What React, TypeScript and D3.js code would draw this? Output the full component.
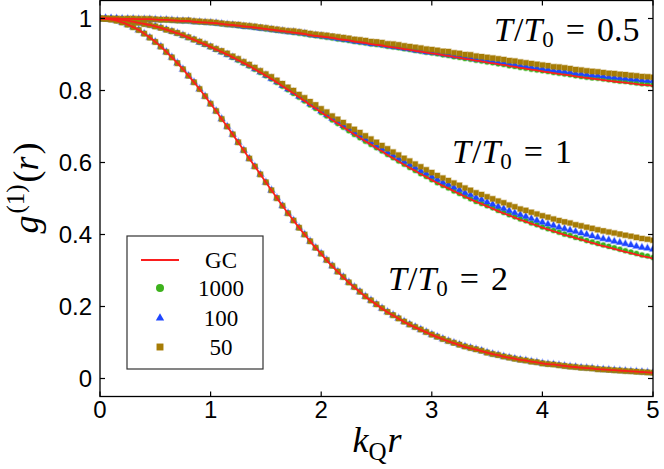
import React from "react";
import * as d3 from "d3";

// sample positions k_Q r
const kr = [
  0, 0.05, 0.1, 0.15, 0.2, 0.25, 0.3, 0.35, 0.4, 0.45,
  0.5, 0.55, 0.6, 0.65, 0.7, 0.75, 0.8, 0.85, 0.9, 0.95,
  1, 1.05, 1.1, 1.15, 1.2, 1.25, 1.3, 1.35, 1.4, 1.45,
  1.5, 1.55, 1.6, 1.65, 1.7, 1.75, 1.8, 1.85, 1.9, 1.95,
  2, 2.05, 2.1, 2.15, 2.2, 2.25, 2.3, 2.35, 2.4, 2.45,
  2.5, 2.55, 2.6, 2.65, 2.7, 2.75, 2.8, 2.85, 2.9, 2.95,
  3, 3.05, 3.1, 3.15, 3.2, 3.25, 3.3, 3.35, 3.4, 3.45,
  3.5, 3.55, 3.6, 3.65, 3.7, 3.75, 3.8, 3.85, 3.9, 3.95,
  4, 4.05, 4.1, 4.15, 4.2, 4.25, 4.3, 4.35, 4.4, 4.45,
  4.5, 4.55, 4.6, 4.65, 4.7, 4.75, 4.8, 4.85, 4.9, 4.95,
  5,
];

// T/T0 = 0.5
const gcHalf = [
  1.000, 1.000, 1.000, 1.000, 0.999, 0.999, 0.999, 0.998, 0.998, 0.998,
  0.997, 0.996, 0.996, 0.995, 0.994, 0.993, 0.993, 0.991, 0.990, 0.989,
  0.988, 0.987, 0.985, 0.983, 0.982, 0.980, 0.978, 0.977, 0.975, 0.973,
  0.971, 0.969, 0.967, 0.965, 0.963, 0.961, 0.959, 0.957, 0.954, 0.952,
  0.950, 0.948, 0.946, 0.943, 0.941, 0.939, 0.936, 0.934, 0.932, 0.929,
  0.927, 0.925, 0.922, 0.920, 0.918, 0.915, 0.913, 0.910, 0.908, 0.905,
  0.903, 0.901, 0.898, 0.896, 0.893, 0.891, 0.888, 0.886, 0.883, 0.881,
  0.878, 0.876, 0.873, 0.871, 0.868, 0.866, 0.863, 0.861, 0.858, 0.856,
  0.853, 0.851, 0.848, 0.846, 0.844, 0.842, 0.839, 0.837, 0.835, 0.833,
  0.831, 0.829, 0.827, 0.825, 0.823, 0.822, 0.820, 0.818, 0.816, 0.815,
  0.813,
];
const n1000Half = [
  1.000, 1.000, 1.000, 1.000, 0.999, 0.999, 0.999, 0.998, 0.998, 0.998,
  0.997, 0.996, 0.996, 0.995, 0.994, 0.993, 0.993, 0.991, 0.990, 0.989,
  0.988, 0.987, 0.985, 0.983, 0.982, 0.980, 0.978, 0.977, 0.975, 0.973,
  0.971, 0.969, 0.967, 0.965, 0.963, 0.961, 0.959, 0.957, 0.954, 0.952,
  0.950, 0.948, 0.946, 0.943, 0.941, 0.939, 0.936, 0.934, 0.932, 0.929,
  0.928, 0.926, 0.923, 0.921, 0.919, 0.916, 0.914, 0.911, 0.909, 0.906,
  0.904, 0.902, 0.899, 0.897, 0.894, 0.892, 0.889, 0.887, 0.884, 0.882,
  0.879, 0.877, 0.874, 0.872, 0.869, 0.867, 0.864, 0.862, 0.859, 0.857,
  0.855, 0.853, 0.850, 0.848, 0.846, 0.844, 0.841, 0.839, 0.837, 0.835,
  0.834, 0.832, 0.830, 0.828, 0.826, 0.825, 0.823, 0.821, 0.819, 0.818,
  0.816,
];
const n100Half = [
  1.000, 1.000, 1.000, 1.000, 0.999, 0.999, 0.999, 0.998, 0.998, 0.998,
  0.997, 0.996, 0.996, 0.995, 0.994, 0.993, 0.993, 0.991, 0.990, 0.989,
  0.988, 0.987, 0.985, 0.983, 0.982, 0.980, 0.978, 0.977, 0.975, 0.973,
  0.971, 0.969, 0.967, 0.965, 0.963, 0.962, 0.960, 0.958, 0.955, 0.953,
  0.951, 0.949, 0.947, 0.944, 0.942, 0.940, 0.937, 0.935, 0.933, 0.930,
  0.929, 0.927, 0.924, 0.922, 0.920, 0.917, 0.915, 0.912, 0.910, 0.907,
  0.906, 0.904, 0.901, 0.899, 0.896, 0.895, 0.892, 0.890, 0.887, 0.885,
  0.883, 0.881, 0.878, 0.877, 0.874, 0.872, 0.869, 0.868, 0.865, 0.863,
  0.861, 0.859, 0.856, 0.855, 0.853, 0.851, 0.848, 0.847, 0.845, 0.843,
  0.842, 0.840, 0.838, 0.837, 0.835, 0.834, 0.832, 0.831, 0.829, 0.828,
  0.827,
];
const n50Half = [
  1.000, 1.000, 1.000, 1.000, 0.999, 1.000, 1.000, 0.999, 0.999, 0.999,
  0.998, 0.997, 0.997, 0.996, 0.995, 0.995, 0.995, 0.993, 0.992, 0.991,
  0.990, 0.989, 0.987, 0.985, 0.984, 0.983, 0.981, 0.980, 0.978, 0.976,
  0.974, 0.972, 0.970, 0.968, 0.966, 0.965, 0.963, 0.961, 0.958, 0.956,
  0.955, 0.953, 0.951, 0.949, 0.947, 0.945, 0.942, 0.941, 0.939, 0.936,
  0.935, 0.933, 0.930, 0.929, 0.927, 0.924, 0.922, 0.920, 0.918, 0.915,
  0.914, 0.912, 0.909, 0.908, 0.905, 0.903, 0.900, 0.899, 0.896, 0.894,
  0.892, 0.890, 0.888, 0.886, 0.883, 0.882, 0.879, 0.877, 0.875, 0.873,
  0.871, 0.869, 0.866, 0.865, 0.863, 0.861, 0.858, 0.857, 0.855, 0.853,
  0.852, 0.850, 0.848, 0.847, 0.845, 0.844, 0.842, 0.841, 0.839, 0.838,
  0.837,
];

// T/T0 = 1
const gcOne = [
  1.000, 1.000, 0.999, 0.998, 0.996, 0.994, 0.991, 0.988, 0.985, 0.982,
  0.978, 0.974, 0.969, 0.964, 0.959, 0.953, 0.947, 0.941, 0.934, 0.928,
  0.921, 0.914, 0.907, 0.900, 0.892, 0.884, 0.876, 0.868, 0.859, 0.850,
  0.841, 0.832, 0.822, 0.812, 0.802, 0.792, 0.781, 0.771, 0.760, 0.750,
  0.739, 0.729, 0.718, 0.708, 0.698, 0.688, 0.678, 0.669, 0.659, 0.650,
  0.640, 0.631, 0.621, 0.612, 0.603, 0.594, 0.585, 0.577, 0.568, 0.560,
  0.551, 0.543, 0.535, 0.528, 0.520, 0.513, 0.505, 0.498, 0.491, 0.485,
  0.478, 0.472, 0.465, 0.459, 0.453, 0.447, 0.441, 0.436, 0.430, 0.425,
  0.419, 0.414, 0.409, 0.404, 0.399, 0.395, 0.390, 0.386, 0.381, 0.377,
  0.372, 0.368, 0.364, 0.360, 0.356, 0.352, 0.348, 0.344, 0.340, 0.337,
  0.333,
];
const n1000One = [
  1.000, 1.000, 0.999, 0.998, 0.996, 0.994, 0.991, 0.988, 0.985, 0.982,
  0.978, 0.974, 0.969, 0.964, 0.959, 0.953, 0.947, 0.941, 0.934, 0.928,
  0.921, 0.914, 0.907, 0.900, 0.892, 0.884, 0.876, 0.868, 0.859, 0.850,
  0.841, 0.832, 0.822, 0.812, 0.802, 0.792, 0.781, 0.771, 0.760, 0.750,
  0.739, 0.729, 0.718, 0.708, 0.698, 0.688, 0.678, 0.669, 0.659, 0.650,
  0.641, 0.632, 0.622, 0.613, 0.604, 0.595, 0.586, 0.578, 0.569, 0.561,
  0.552, 0.544, 0.536, 0.529, 0.521, 0.514, 0.506, 0.499, 0.492, 0.486,
  0.480, 0.474, 0.467, 0.461, 0.455, 0.449, 0.443, 0.438, 0.432, 0.427,
  0.421, 0.416, 0.411, 0.406, 0.401, 0.397, 0.392, 0.388, 0.383, 0.379,
  0.375, 0.371, 0.367, 0.363, 0.359, 0.355, 0.351, 0.347, 0.343, 0.340,
  0.336,
];
const n100One = [
  1.000, 1.000, 0.999, 0.998, 0.996, 0.994, 0.991, 0.988, 0.985, 0.982,
  0.978, 0.974, 0.969, 0.964, 0.959, 0.953, 0.947, 0.941, 0.934, 0.928,
  0.921, 0.914, 0.907, 0.900, 0.892, 0.885, 0.877, 0.869, 0.860, 0.851,
  0.842, 0.833, 0.824, 0.814, 0.804, 0.795, 0.784, 0.774, 0.763, 0.754,
  0.743, 0.733, 0.723, 0.713, 0.703, 0.694, 0.684, 0.675, 0.665, 0.657,
  0.647, 0.638, 0.629, 0.620, 0.611, 0.603, 0.594, 0.586, 0.577, 0.570,
  0.561, 0.553, 0.545, 0.539, 0.531, 0.524, 0.516, 0.510, 0.503, 0.497,
  0.490, 0.484, 0.478, 0.472, 0.466, 0.460, 0.455, 0.450, 0.444, 0.439,
  0.434, 0.429, 0.425, 0.420, 0.416, 0.412, 0.408, 0.404, 0.400, 0.396,
  0.392, 0.388, 0.385, 0.381, 0.378, 0.374, 0.371, 0.367, 0.364, 0.362,
  0.359,
];
const n50One = [
  1.000, 1.000, 0.999, 0.998, 0.996, 0.994, 0.991, 0.988, 0.985, 0.982,
  0.978, 0.974, 0.969, 0.965, 0.960, 0.954, 0.948, 0.942, 0.936, 0.930,
  0.923, 0.916, 0.910, 0.903, 0.895, 0.888, 0.880, 0.872, 0.864, 0.855,
  0.846, 0.838, 0.828, 0.819, 0.809, 0.800, 0.789, 0.780, 0.769, 0.760,
  0.749, 0.740, 0.729, 0.720, 0.711, 0.701, 0.692, 0.683, 0.674, 0.665,
  0.656, 0.647, 0.638, 0.629, 0.621, 0.612, 0.604, 0.596, 0.588, 0.580,
  0.572, 0.564, 0.557, 0.550, 0.543, 0.537, 0.529, 0.523, 0.516, 0.511,
  0.505, 0.499, 0.493, 0.488, 0.482, 0.477, 0.471, 0.467, 0.462, 0.457,
  0.452, 0.448, 0.443, 0.439, 0.435, 0.432, 0.427, 0.424, 0.420, 0.417,
  0.413, 0.410, 0.407, 0.404, 0.401, 0.398, 0.395, 0.392, 0.389, 0.387,
  0.384,
];

// T/T0 = 2 (all particle numbers fall on top of each other)
const gcTwo = [
  1.000, 0.999, 0.997, 0.994, 0.989, 0.983, 0.976, 0.968, 0.958, 0.947,
  0.935, 0.922, 0.907, 0.892, 0.876, 0.859, 0.841, 0.823, 0.804, 0.784,
  0.763, 0.743, 0.721, 0.700, 0.678, 0.656, 0.634, 0.611, 0.589, 0.567,
  0.545, 0.523, 0.501, 0.480, 0.459, 0.439, 0.419, 0.400, 0.381, 0.363,
  0.346, 0.328, 0.312, 0.296, 0.281, 0.266, 0.253, 0.240, 0.227, 0.216,
  0.205, 0.194, 0.184, 0.175, 0.166, 0.157, 0.149, 0.142, 0.135, 0.128,
  0.121, 0.115, 0.109, 0.103, 0.098, 0.093, 0.088, 0.084, 0.080, 0.076,
  0.072, 0.068, 0.065, 0.061, 0.058, 0.055, 0.052, 0.050, 0.047, 0.045,
  0.042, 0.040, 0.039, 0.037, 0.035, 0.033, 0.032, 0.030, 0.029, 0.028,
  0.026, 0.025, 0.024, 0.023, 0.022, 0.021, 0.020, 0.019, 0.018, 0.017,
  0.016,
];
const simTwo = [
  1.000, 0.999, 0.997, 0.994, 0.989, 0.983, 0.976, 0.968, 0.958, 0.947,
  0.935, 0.922, 0.907, 0.892, 0.876, 0.859, 0.841, 0.823, 0.804, 0.784,
  0.763, 0.743, 0.721, 0.700, 0.678, 0.656, 0.634, 0.611, 0.589, 0.567,
  0.545, 0.523, 0.501, 0.480, 0.459, 0.439, 0.419, 0.400, 0.381, 0.363,
  0.347, 0.329, 0.313, 0.297, 0.282, 0.267, 0.254, 0.241, 0.228, 0.217,
  0.206, 0.195, 0.185, 0.176, 0.167, 0.158, 0.150, 0.143, 0.136, 0.129,
  0.122, 0.116, 0.110, 0.104, 0.099, 0.094, 0.089, 0.085, 0.081, 0.077,
  0.072, 0.068, 0.065, 0.061, 0.058, 0.055, 0.052, 0.050, 0.047, 0.045,
  0.042, 0.040, 0.039, 0.037, 0.035, 0.033, 0.032, 0.030, 0.029, 0.028,
  0.026, 0.025, 0.024, 0.023, 0.022, 0.021, 0.020, 0.019, 0.018, 0.017,
  0.016,
];

const xTicks = [0, 1, 2, 3, 4, 5];
const yTicks = [0, 0.2, 0.4, 0.6, 0.8, 1];
const legendLabels = ["GC", "1000", "100", "50"];

const W = 664;
const H = 469;
const RED = "#fa1e1e";
const GREEN = "#3db21c";
const BLUE = "#1e46ff";
const GOLD = "#a67c06";
const SANS = "'Liberation Sans', Arial, sans-serif";
const SERIF = "'Liberation Serif', 'Times New Roman', serif";

const x = d3.scaleLinear().domain([0, 5]).range([100, 653]);
const y = d3.scaleLinear().domain([-0.05, 1.05]).range([396.5, 0.5]);

const gcCurves = [gcHalf, gcOne, gcTwo];
const markerSets = [
  { color: GREEN, type: d3.symbolCircle, size: 20, data: [n1000Half, n1000One, simTwo] },
  { color: BLUE, type: d3.symbolTriangle, size: 20, data: [n100Half, n100One, simTwo] },
  { color: GOLD, type: d3.symbolSquare, size: 26, data: [n50Half, n50One, simTwo] },
];

const line = d3
  .line<number>()
  .x((_, i) => x(kr[i]))
  .y((d) => y(d))
  .curve(d3.curveMonotoneX);

const Label = ({ x0, y0, value }: { x0: number; y0: number; value: string }) => (
  <text x={x0} y={y0} fontFamily={SERIF} fontSize={34} fill="#000">
    <tspan fontStyle="italic">T</tspan>
    <tspan dx={1}>/</tspan>
    <tspan fontStyle="italic">T</tspan>
    <tspan dy={6} fontSize={23}>0</tspan>
    <tspan dy={-6} dx={12}>=</tspan>
    <tspan dx={12}>{value}</tspan>
  </text>
);

export default function App() {
  const px0 = x.range()[0];
  const px1 = x.range()[1];
  const py0 = y.range()[1];
  const py1 = y.range()[0];

  return (
    <svg
      width={W}
      height={H}
      style={{ position: "absolute", left: 0, top: 0, background: "#fff" }}
    >
      <defs>
        <clipPath id="plot">
          <rect x={px0} y={py0} width={px1 - px0} height={py1 - py0} />
        </clipPath>
      </defs>
      <rect width={W} height={H} fill="#fff" />

      <g clipPath="url(#plot)">
        {markerSets.map((m, mi) => {
          const path = d3.symbol().type(m.type).size(m.size)() || "";
          return (
            <g key={mi}>
              {m.data.map((series, si) =>
                series.map((v, i) => (
                  <path
                    key={`${si}-${i}`}
                    d={path}
                    transform={`translate(${x(kr[i])},${y(v)})`}
                    fill={m.color}
                    stroke={m.color}
                    strokeOpacity={0.35}
                    strokeWidth={1.4}
                  />
                ))
              )}
            </g>
          );
        })}
        {gcCurves.map((c, i) => (
          <path key={i} d={line(c) || ""} fill="none" stroke={RED} strokeWidth={1.8} />
        ))}
      </g>

      {/* frame and inward ticks */}
      <rect
        x={px0}
        y={py0}
        width={px1 - px0}
        height={py1 - py0}
        fill="none"
        stroke="#000"
        strokeWidth={1.3}
      />
      {xTicks.map((t) => (
        <g key={t}>
          <line x1={x(t)} x2={x(t)} y1={py1} y2={py1 - 5} stroke="#000" strokeWidth={1.2} />
          <line x1={x(t)} x2={x(t)} y1={py0} y2={py0 + 5} stroke="#000" strokeWidth={1.2} />
          <text
            x={x(t)}
            y={418}
            textAnchor="middle"
            fontFamily={SANS}
            fontSize={24}
            fill="#000"
          >
            {d3.format("")(t)}
          </text>
        </g>
      ))}
      {yTicks.map((t) => (
        <g key={t}>
          <line x1={px0} x2={px0 + 5} y1={y(t)} y2={y(t)} stroke="#000" strokeWidth={1.2} />
          <line x1={px1} x2={px1 - 5} y1={y(t)} y2={y(t)} stroke="#000" strokeWidth={1.2} />
          <text
            x={92}
            y={y(t) + 8.5}
            textAnchor="end"
            fontFamily={SANS}
            fontSize={24}
            fill="#000"
          >
            {d3.format("")(t)}
          </text>
        </g>
      ))}

      {/* axis titles */}
      <text x={377} y={452} textAnchor="middle" fontFamily={SERIF} fontSize={36} fill="#000">
        <tspan fontStyle="italic">k</tspan>
        <tspan dy={8} fontSize={25}>Q</tspan>
        <tspan dy={-8} dx={1} fontStyle="italic">r</tspan>
      </text>
      <text
        transform="translate(38,188) rotate(-90)"
        textAnchor="middle"
        fontFamily={SERIF}
        fontSize={36}
        fill="#000"
      >
        <tspan fontStyle="italic">g</tspan>
        <tspan dy={-14} dx={2} fontSize={25}>(1)</tspan>
        <tspan dy={14} dx={2}>(</tspan>
        <tspan fontStyle="italic">r</tspan>
        <tspan dx={2}>)</tspan>
      </text>

      {/* temperature labels */}
      <Label x0={494} y0={41} value="0.5" />
      <Label x0={452} y0={163} value="1" />
      <Label x0={388} y0={290} value="2" />

      {/* legend */}
      <rect x={127} y={236} width={136} height={133} fill="#fff" stroke="#333" strokeWidth={1.2} />
      <line x1={141} x2={179} y1={260} y2={260} stroke={RED} strokeWidth={2} />
      <circle cx={160} cy={288} r={4} fill={GREEN} />
      <path d={d3.symbol().type(d3.symbolTriangle).size(30)() || ""} transform="translate(160,318)" fill={BLUE} />
      <path d={d3.symbol().type(d3.symbolSquare).size(48)() || ""} transform="translate(160,347)" fill={GOLD} />
      {legendLabels.map((l, i) => (
        <text
          key={l}
          x={221}
          y={[268, 296, 326, 355][i]}
          textAnchor="middle"
          fontFamily={SERIF}
          fontSize={23}
          fill="#000"
        >
          {l}
        </text>
      ))}
    </svg>
  );
}
